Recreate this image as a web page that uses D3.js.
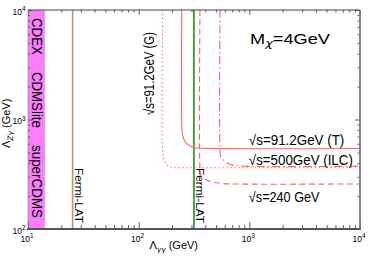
<!DOCTYPE html>
<html>
<head>
<meta charset="utf-8">
<script src="https://cdn.jsdelivr.net/npm/d3@7"></script>
<style>
  html, body { margin: 0; padding: 0; background: #fff; }
  svg { display: block; font-family: "Liberation Sans", Arial, Helvetica, sans-serif; }
  .greek { font-family: "DejaVu Sans", sans-serif; font-style: italic; }
</style>
</head>
<body>
<svg id="chart" width="374" height="262"></svg>
<script>
// axis ranges and tick labels
const xDomain = [10, 1e4];
const yDomain = [1e2, 1e4];
const xMajor = [10, 100, 1000, 10000];
const xExp = ["1", "2", "3", "4"];
const yMajor = [100, 1000, 10000];
const yExp = ["2", "3", "4"];

// direct detection band (Lambda_gg range) and its experiments
const ddBand = [10, 14.2];
const ddNames = ["CDEX", "CDMSlite", "superCDMS"];
const ddStart = [8450, 2720, 585];

// Fermi-LAT limits on Lambda_gg
const fermiTan = 25.3;
const fermiGreen = 316;

// collider reach curves [Lambda_gg, Lambda_Zg]
const curveG = [[165, 10000], [165, 490], [168, 440], [173, 412], [185, 378], [205, 365], [300, 363], [10000, 363]];
const curveT = [[245, 10000], [245, 900], [247, 780], [251, 700], [262, 630], [285, 580], [323, 552], [400, 545], [10000, 543]];
const curve240 = [[358, 10000], [358, 360], [365, 310], [412, 280], [543, 262], [700, 258], [10000, 258]];
const curveILC = [[543, 10000], [543, 510], [550, 460], [582, 427], [669, 390], [800, 377], [10000, 375]];

const W = 374, H = 262;
const margin = { top: 10, right: 14, bottom: 33, left: 28 };

const svg = d3.select("#chart");

const x = d3.scaleLog().domain(xDomain).range([margin.left, W - margin.right]);
const y = d3.scaleLog().domain(yDomain).range([H - margin.bottom, margin.top]);

const isMajor = v => Math.abs(Math.log10(v) - Math.round(Math.log10(v))) < 1e-6;

svg.append("defs").append("clipPath").attr("id", "plot")
  .append("rect")
  .attr("x", x(xDomain[0])).attr("y", y(yDomain[1]))
  .attr("width", x(xDomain[1]) - x(xDomain[0]))
  .attr("height", y(yDomain[0]) - y(yDomain[1]));

const plot = svg.append("g").attr("clip-path", "url(#plot)");

// pink band
plot.append("rect")
  .attr("x", x(ddBand[0]))
  .attr("y", y(yDomain[1]))
  .attr("width", x(ddBand[1]) - x(ddBand[0]))
  .attr("height", y(yDomain[0]) - y(yDomain[1]))
  .attr("fill", "#f97ef9");

// Fermi lines
plot.append("line")
  .attr("x1", x(fermiTan)).attr("x2", x(fermiTan))
  .attr("y1", y(yDomain[0])).attr("y2", y(yDomain[1]))
  .attr("stroke", "#b59c66").attr("stroke-width", 1.6);
plot.append("line")
  .attr("x1", x(fermiGreen)).attr("x2", x(fermiGreen))
  .attr("y1", y(yDomain[0])).attr("y2", y(yDomain[1]))
  .attr("stroke", "#1f8f1f").attr("stroke-width", 1.6);

// red curves
const line = d3.line()
  .x(d => x(d[0]))
  .y(d => y(d[1]))
  .curve(d3.curveCatmullRom.alpha(0.5));

const red = "#ff5f5f";
[
  { data: curveG, dash: "1.3,2.7" },
  { data: curveT, dash: null },
  { data: curve240, dash: "6,3.5" },
  { data: curveILC, dash: "8,3,1.5,3" }
].forEach(c => {
  plot.append("path")
    .attr("d", line(c.data))
    .attr("fill", "none")
    .attr("stroke", red)
    .attr("stroke-width", 1.1)
    .attr("stroke-dasharray", c.dash);
});

// axes (ticks pointing inward)
function styleTicks(g, major, minor, attr) {
  g.select(".domain").remove();
  g.selectAll(".tick text").remove();
  g.selectAll(".tick line")
    .attr(attr, d => isMajor(d) ? major : minor)
    .attr("stroke", "#333").attr("stroke-width", 0.8);
}

const xt = x.ticks();
const yt = y.ticks();

svg.append("g")
  .attr("transform", `translate(0,${y(yDomain[1])})`)
  .call(d3.axisBottom(x).tickValues(xt).tickFormat(""))
  .call(g => styleTicks(g, 5, 2.5, "y2"));

svg.append("g")
  .attr("transform", `translate(0,${y(yDomain[0])})`)
  .call(d3.axisTop(x).tickValues(xt).tickFormat(""))
  .call(g => styleTicks(g, -7, -4, "y2"));

svg.append("g")
  .attr("transform", `translate(${x(xDomain[1])},0)`)
  .call(d3.axisLeft(y).tickValues(yt).tickFormat(""))
  .call(g => styleTicks(g, -5, -2.5, "x2"));

svg.append("g")
  .attr("transform", `translate(${x(xDomain[0])},0)`)
  .call(d3.axisRight(y).tickValues(yt).tickFormat(""))
  .call(g => styleTicks(g, 4, 2, "x2"));

// frame
const fx0 = x(xDomain[0]), fx1 = x(xDomain[1]), fy0 = y(yDomain[1]), fy1 = y(yDomain[0]);
svg.append("line").attr("x1", fx0).attr("x2", fx1).attr("y1", fy0).attr("y2", fy0)
  .attr("stroke", "#444").attr("stroke-width", 1);
svg.append("line").attr("x1", fx0 - 1).attr("x2", fx1 + 1).attr("y1", fy1).attr("y2", fy1)
  .attr("stroke", "#555").attr("stroke-width", 1.8);
svg.append("line").attr("x1", fx1).attr("x2", fx1).attr("y1", fy0).attr("y2", fy1)
  .attr("stroke", "#777").attr("stroke-width", 1.8);
svg.append("line").attr("x1", fx0).attr("x2", fx0).attr("y1", fy0).attr("y2", fy1)
  .attr("stroke", "#999").attr("stroke-width", 0.8);

// tick labels 10^n
const tl = svg.append("g").attr("fill", "#000");
xMajor.forEach((v, i) => {
  const t = tl.append("text")
    .attr("x", x(v) - 1).attr("y", y(yDomain[0]) + 12.5)
    .attr("text-anchor", "middle").attr("font-size", 8.5);
  t.append("tspan").text("10");
  t.append("tspan").attr("dy", -3.5).attr("font-size", 6.5).text(xExp[i]);
});
yMajor.forEach((v, i) => {
  const t = tl.append("text")
    .attr("x", x(xDomain[0]) - 2.5).attr("y", y(v) + 4.5)
    .attr("text-anchor", "end").attr("font-size", 8.5);
  t.append("tspan").text("10");
  t.append("tspan").attr("dy", -3.5).attr("font-size", 6.5).text(yExp[i]);
});

// axis titles
const xl = svg.append("text")
  .attr("transform", `translate(${x(125)},248.5)`)
  .attr("font-size", 11);
xl.append("tspan").text("Λ");
xl.append("tspan").attr("class", "greek").attr("dy", 3).attr("font-size", 7.5).text("γγ");
xl.append("tspan").attr("dy", -3).text(" (GeV)");

const yl = svg.append("text")
  .attr("transform", `translate(10,148) rotate(-90)`)
  .attr("font-size", 11);
yl.append("tspan").text("Λ");
yl.append("tspan").attr("class", "greek").attr("dy", 3).attr("font-size", 7.5).text("Zγ");
yl.append("tspan").attr("dy", -3).text(" (GeV)");

// rotated labels
function vlabel(str, px, py, size, len, angle) {
  svg.append("text")
    .attr("transform", `translate(${px},${py}) rotate(${angle})`)
    .attr("font-size", size)
    .attr("textLength", len)
    .attr("lengthAdjust", "spacingAndGlyphs")
    .text(str);
}
const ddLen = [37, 56, 73];
ddNames.forEach((n, i) => vlabel(n, x(ddBand[0]) + 3.5, y(ddStart[i]), 14.5, ddLen[i], 90));
vlabel("Fermi-LAT", x(fermiTan) + 2.5, y(361), 11.5, 55, 90);
vlabel("Fermi-LAT", x(fermiGreen) + 2.5, y(361), 11.5, 55, 90);
vlabel("√s=91.2GeV (G)", x(139), y(1099), 14.5, 83, -90);

// horizontal labels
function hlabel(str, px, py, size, len) {
  svg.append("text")
    .attr("x", px).attr("y", py)
    .attr("font-size", size)
    .attr("textLength", len)
    .attr("lengthAdjust", "spacingAndGlyphs")
    .text(str);
}
hlabel("√s=91.2GeV (T)", x(990), y(579), 14.5, 95.5);
hlabel("√s=500GeV (ILC)", x(990), y(388), 14.5, 104);
hlabel("√s=240 GeV", x(990), y(177.5), 14.5, 70.7);

const ml = svg.append("text")
  .attr("transform", `translate(${x(1014)},${y(4892)}) scale(1.3,1)`)
  .attr("font-size", 14);
ml.append("tspan").text("M");
ml.append("tspan").attr("class", "greek").attr("dy", 3).attr("font-size", 10).text("χ");
ml.append("tspan").attr("dy", -3).text("=4GeV");
</script>
</body>
</html>
